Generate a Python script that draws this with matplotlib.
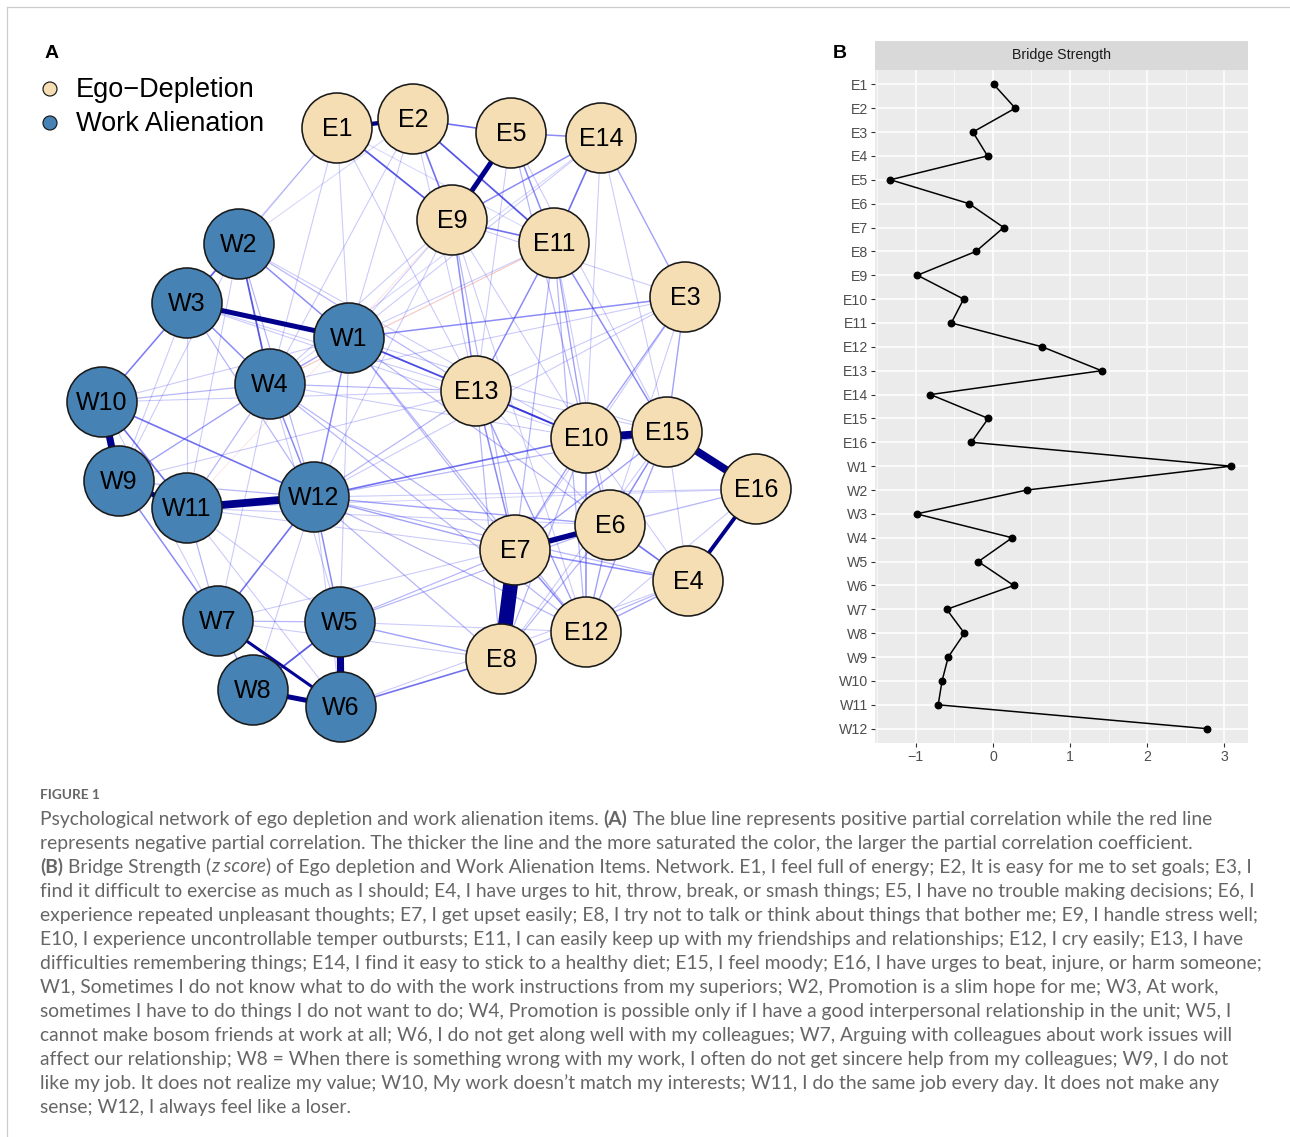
import numpy as np
import matplotlib.pyplot as plt
from matplotlib.patches import Circle

# ---------------- panel A : network ----------------
nodes = ["E1", "E2", "E5", "E14", "E9", "E11", "E3", "W2", "W3", "W1", "W4", "W10",
         "E13", "E10", "E15", "E16", "W9", "W11", "W12", "E6", "E7", "E4", "W7", "W5",
         "E12", "E8", "W8", "W6"]
node_x = [337, 413, 511, 601, 452, 554, 685, 239, 187, 349, 270, 102,
          476, 586, 667, 756, 119, 187, 314, 610, 515, 688, 218, 340,
          586, 501, 253, 341]
node_y = [128, 119, 133, 138, 220, 243, 297, 244, 303, 338, 384, 402,
          391, 438, 432, 489, 481, 508, 497, 525, 550, 581, 621, 622,
          632, 659, 690, 707]

# partial correlations (estimated, negative = red)
edges = [
    ("E7", "E8", 1.0), ("W11", "W12", 0.5), ("E10", "E15", 0.5), ("E15", "E16", 0.5),
    ("W10", "W9", 0.45), ("W5", "W6", 0.45), ("W3", "W1", 0.3), ("E5", "E9", 0.3),
    ("E1", "E2", 0.25), ("E7", "E6", 0.33), ("W8", "W6", 0.3), ("W9", "W11", 0.3),
    ("E16", "E4", 0.22), ("W7", "W6", 0.16),
    ("E1", "E9", 0.07), ("E2", "E9", 0.06), ("E2", "E5", 0.06), ("E2", "E11", 0.07),
    ("E5", "E14", 0.05), ("E14", "E11", 0.06), ("E9", "E11", 0.06), ("E5", "E11", 0.05),
    ("E14", "E9", 0.05), ("W2", "W3", 0.06), ("W2", "W4", 0.07), ("W2", "W1", 0.05),
    ("W3", "W4", 0.05), ("W1", "E13", 0.07), ("E13", "E10", 0.08), ("W10", "W12", 0.06),
    ("W10", "W11", 0.06), ("W9", "W7", 0.05), ("W5", "W8", 0.07), ("E6", "E4", 0.06),
    ("E3", "W1", 0.05), ("E9", "E13", 0.05), ("E11", "E13", 0.05), ("E11", "E15", 0.05),
    ("E11", "E10", 0.04), ("E14", "E3", 0.04), ("E3", "E10", 0.04), ("E3", "E15", 0.04),
    ("E10", "E12", 0.05), ("E7", "E4", 0.05), ("E7", "E12", 0.05), ("E6", "E12", 0.04),
    ("E15", "E6", 0.05), ("E15", "E7", 0.04), ("E13", "E7", 0.05), ("E13", "E12", 0.04),
    ("W3", "W10", 0.05), ("E12", "E4", 0.04),
    ("E1", "E13", 0.02), ("E1", "E11", 0.015), ("E2", "E13", 0.02), ("E9", "E10", 0.02),
    ("E9", "E7", 0.03), ("E9", "E12", 0.02), ("E11", "E7", 0.03), ("E11", "E12", 0.03),
    ("E11", "E6", 0.02), ("E14", "E10", 0.02), ("E14", "E15", 0.02), ("E5", "E13", 0.02),
    ("E5", "E10", 0.03), ("E5", "E15", 0.02), ("E13", "E8", 0.03), ("E13", "E6", 0.02),
    ("E13", "E15", 0.02), ("E3", "E13", 0.02), ("E3", "E7", 0.02), ("E3", "E6", 0.02),
    ("E16", "E6", 0.02), ("E16", "E12", 0.02), ("E16", "E7", 0.015), ("E4", "E8", 0.03),
    ("E4", "E15", 0.02), ("E4", "E10", 0.02), ("E8", "E10", 0.03), ("E8", "E6", 0.03),
    ("E8", "E15", 0.02), ("E12", "E15", 0.04), ("E10", "E6", 0.04), ("E10", "E7", 0.04),
    ("E9", "E3", 0.02),
    ("W2", "W10", 0.02), ("W2", "W9", 0.02), ("W2", "W12", 0.03), ("W2", "W11", 0.02),
    ("W3", "W12", 0.03), ("W3", "W11", 0.02), ("W3", "W9", 0.02), ("W1", "W4", 0.04),
    ("W1", "W12", 0.05), ("W1", "W10", 0.02), ("W1", "W5", 0.02), ("W4", "W10", 0.03),
    ("W4", "W9", 0.04), ("W4", "W11", 0.03), ("W4", "W7", 0.02), ("W4", "W5", 0.02),
    ("W4", "W12", 0.05), ("W7", "W11", 0.03), ("W7", "W8", 0.04), ("W7", "W5", 0.03),
    ("W7", "W12", 0.06), ("W12", "W5", 0.05), ("W12", "W6", 0.02), ("W11", "W5", 0.02),
    ("W11", "W6", 0.02), ("W9", "W12", 0.03), ("W10", "W7", 0.02), ("W8", "W12", 0.02),
    ("E1", "W2", 0.02), ("E1", "W3", 0.02), ("E1", "W1", 0.02), ("E1", "W4", 0.02),
    ("E2", "W1", 0.02), ("E2", "W4", 0.02), ("E2", "W2", 0.015), ("E9", "W1", 0.02),
    ("E9", "W4", 0.02), ("E9", "W12", 0.02), ("E11", "W1", 0.02), ("E13", "W4", 0.03),
    ("E13", "W2", 0.03), ("E13", "W3", 0.02), ("E13", "W12", 0.03), ("E10", "W1", 0.03),
    ("E10", "W2", 0.02), ("E10", "W12", 0.06), ("E10", "W4", 0.02), ("E7", "W1", 0.03),
    ("E7", "W12", 0.04), ("E7", "W4", 0.03), ("E7", "W5", 0.03), ("E7", "W11", 0.02),
    ("E6", "W12", 0.04), ("E6", "W5", 0.03), ("E6", "W1", 0.03), ("E6", "W7", 0.02),
    ("E12", "W1", 0.03), ("E12", "W12", 0.03), ("E12", "W5", 0.02), ("E12", "W4", 0.03),
    ("E8", "W6", 0.06), ("E8", "W5", 0.04), ("E8", "W7", 0.02), ("E8", "W12", 0.03),
    ("E4", "W12", 0.03), ("E4", "W6", 0.02), ("E15", "W12", 0.03), ("E15", "W1", 0.02),
    ("E16", "W12", 0.02), ("E16", "W11", 0.015), ("E3", "W4", 0.02), ("E3", "W12", 0.02),
    ("E14", "W1", 0.02), ("E14", "W4", 0.015), ("E6", "W11", 0.02), ("E13", "W9", 0.02),
    ("E13", "W10", 0.02), ("E10", "W3", 0.02),
    ("W4", "E11", -0.025), ("W11", "E9", -0.01),
]

groups = ["Ego\u2212Depletion", "Work Alienation"]
group_colors = ["#F5DEB3", "#4682B4"]

# ---------------- panel B : bridge strength ----------------
items = ["E1", "E2", "E3", "E4", "E5", "E6", "E7", "E8", "E9", "E10", "E11", "E12",
         "E13", "E14", "E15", "E16", "W1", "W2", "W3", "W4", "W5", "W6", "W7", "W8",
         "W9", "W10", "W11", "W12"]
bridge = [0.01, 0.29, -0.26, -0.07, -1.33, -0.31, 0.14, -0.22, -0.98, -0.38, -0.54, 0.64,
          1.41, -0.81, -0.06, -0.28, 3.09, 0.44, -0.99, 0.25, -0.19, 0.27, -0.60, -0.37,
          -0.58, -0.66, -0.71, 2.78]

W, H = 1290, 1137
fig = plt.figure(figsize=(W / 100, H / 100), dpi=100)
ax = fig.add_axes([0, 0, 1, 1])
ax.set_xlim(0, W)
ax.set_ylim(H, 0)
ax.axis("off")

PT = 0.72  # points per pixel

# page frame
ax.plot([7, W], [7, 7], color="#cccccc", lw=1.2 * PT)
ax.plot([7, 7], [7, H], color="#cccccc", lw=1.2 * PT)

pos = {n: (x, y) for n, x, y in zip(nodes, node_x, node_y)}

blue = np.array([0.25, 0.25, 0.95])
navy = np.array([0.0, 0.0, 0.55])
for a, b, w in sorted(edges, key=lambda e: abs(e[2])):
    aw = abs(w)
    lw = (0.8 + 14 * aw) * PT
    alpha = float(np.clip(0.05 + 0.95 * aw / 0.085, 0, 1))
    if w > 0:
        t = np.clip((aw - 0.05) / 0.12, 0, 1)
        col = tuple(blue * (1 - t) + navy * t)
    else:
        col = (0.9, 0.35, 0.35)
    (x1, y1), (x2, y2) = pos[a], pos[b]
    ax.plot([x1, x2], [y1, y2], color=col, alpha=alpha, lw=lw,
            solid_capstyle="butt", zorder=2)

for n in nodes:
    x, y = pos[n]
    fc = group_colors[0] if n.startswith("E") else group_colors[1]
    ax.add_patch(Circle((x, y), 35, facecolor=fc, edgecolor="#1a1a1a",
                        lw=1.6 * PT, zorder=5))
    ax.text(x, y + 1, n, ha="center", va="center", fontsize=18,
            family="Liberation Sans", color="black", zorder=6)

for i, (g, c) in enumerate(zip(groups, group_colors)):
    ax.add_patch(Circle((50, 89 + 34 * i), 7, facecolor=c, edgecolor="#1a1a1a",
                        lw=1.2 * PT, zorder=5))
    ax.text(76, 90 + 34 * i, g, ha="left", va="center", fontsize=19.5,
            family="Liberation Sans", color="black")

ax.text(45, 53, "A", ha="left", va="center", fontsize=14, fontweight="bold",
        family="Liberation Sans")
ax.text(833, 53, "B", ha="left", va="center", fontsize=14, fontweight="bold",
        family="Liberation Sans")

# ---------------- panel B drawing ----------------
L, R, T, B = 875, 1248, 70, 743
axb = fig.add_axes([L / W, 1 - B / H, (R - L) / W, (B - T) / H])
axb.set_facecolor("#EBEBEB")
yy = np.arange(len(items))
axb.plot(bridge, yy, color="black", lw=1.5 * PT, marker="o", ms=6.5 * PT, zorder=3)
axb.set_xlim(-1.53, 3.31)
axb.set_ylim(len(items) - 0.4, -0.6)
axb.set_xticks([-1, 0, 1, 2, 3])
axb.set_xticklabels(["\u22121", "0", "1", "2", "3"])
axb.set_xticks([-1.5, -0.5, 0.5, 1.5, 2.5], minor=True)
axb.set_yticks(yy)
axb.set_yticklabels(items)
axb.grid(which="major", color="white", lw=1.1)
axb.grid(which="minor", axis="x", color="white", lw=0.5)
axb.set_axisbelow(True)
for s in axb.spines.values():
    s.set_visible(False)
axb.tick_params(which="major", length=3, width=0.8, color="#333333",
                labelsize=10.2, labelcolor="#4D4D4D", pad=2)
axb.tick_params(which="minor", length=0)
for lab in axb.get_xticklabels() + axb.get_yticklabels():
    lab.set_family("Liberation Sans")

axs = fig.add_axes([L / W, 1 - T / H, (R - L) / W, 29 / H])
axs.set_facecolor("#D9D9D9")
axs.set_xticks([])
axs.set_yticks([])
for s in axs.spines.values():
    s.set_visible(False)
axs.text(0.5, 0.5, "Bridge Strength", ha="center", va="center", fontsize=10.2,
         color="#1A1A1A", family="Liberation Sans", transform=axs.transAxes)

# ---------------- caption ----------------
cap_color = "#666666"
cap_font = "Lato"
cap_size = 13.9

ax.text(40, 795, "FIGURE 1", ha="left", va="center", fontsize=9.8,
        fontweight="bold", family=cap_font, color="#666666")

N, BO, IT = "n", "b", "i"
caption = [
    [("Psychological network of ego depletion and work alienation items.", N, 0),
     ("(A)", BO, 1),
     ("The blue line represents positive partial correlation while the red line", N, 1)],
    [("represents negative partial correlation. The thicker the line and the more saturated the color, the larger the partial correlation coefficient.", N, 0)],
    [("(B)", BO, 0),
     ("Bridge Strength (", N, 1), ("z score", IT, 0),
     (") of Ego depletion and Work Alienation Items. Network. E1, I feel full of energy; E2, It is easy for me to set goals; E3, I", N, 0)],
    [("find it difficult to exercise as much as I should; E4, I have urges to hit, throw, break, or smash things; E5, I have no trouble making decisions; E6, I", N, 0)],
    [("experience repeated unpleasant thoughts; E7, I get upset easily; E8, I try not to talk or think about things that bother me; E9, I handle stress well;", N, 0)],
    [("E10, I experience uncontrollable temper outbursts; E11, I can easily keep up with my friendships and relationships; E12, I cry easily; E13, I have", N, 0)],
    [("difficulties remembering things; E14, I find it easy to stick to a healthy diet; E15, I feel moody; E16, I have urges to beat, injure, or harm someone;", N, 0)],
    [("W1, Sometimes I do not know what to do with the work instructions from my superiors; W2, Promotion is a slim hope for me; W3, At work,", N, 0)],
    [("sometimes I have to do things I do not want to do; W4, Promotion is possible only if I have a good interpersonal relationship in the unit; W5, I", N, 0)],
    [("cannot make bosom friends at work at all; W6, I do not get along well with my colleagues; W7, Arguing with colleagues about work issues will", N, 0)],
    [("affect our relationship; W8 = When there is something wrong with my work, I often do not get sincere help from my colleagues; W9, I do not", N, 0)],
    [("like my job. It does not realize my value; W10, My work doesn\u2019t match my interests; W11, I do the same job every day. It does not make any", N, 0)],
    [("sense; W12, I always feel like a loser.", N, 0)],
]


def style_kw(st):
    if st == BO:
        return dict(fontweight="bold", fontstyle="normal")
    if st == IT:
        return dict(fontweight="normal", fontstyle="italic")
    return dict(fontweight="normal", fontstyle="normal")


space_px = 5
for i, runs in enumerate(caption):
    y = 819 + 24 * i
    prev = None
    for txt, st, sp in runs:
        kw = dict(fontsize=cap_size, family=cap_font, color=cap_color, **style_kw(st))
        if prev is None:
            prev = ax.text(40, y, txt, ha="left", va="center", **kw)
        else:
            prev = ax.annotate(txt, xy=(1, 0.5), xycoords=prev,
                               xytext=(space_px * sp, 0), textcoords="offset pixels",
                               ha="left", va="center", **kw)

fig.savefig("out.png", dpi=100)
